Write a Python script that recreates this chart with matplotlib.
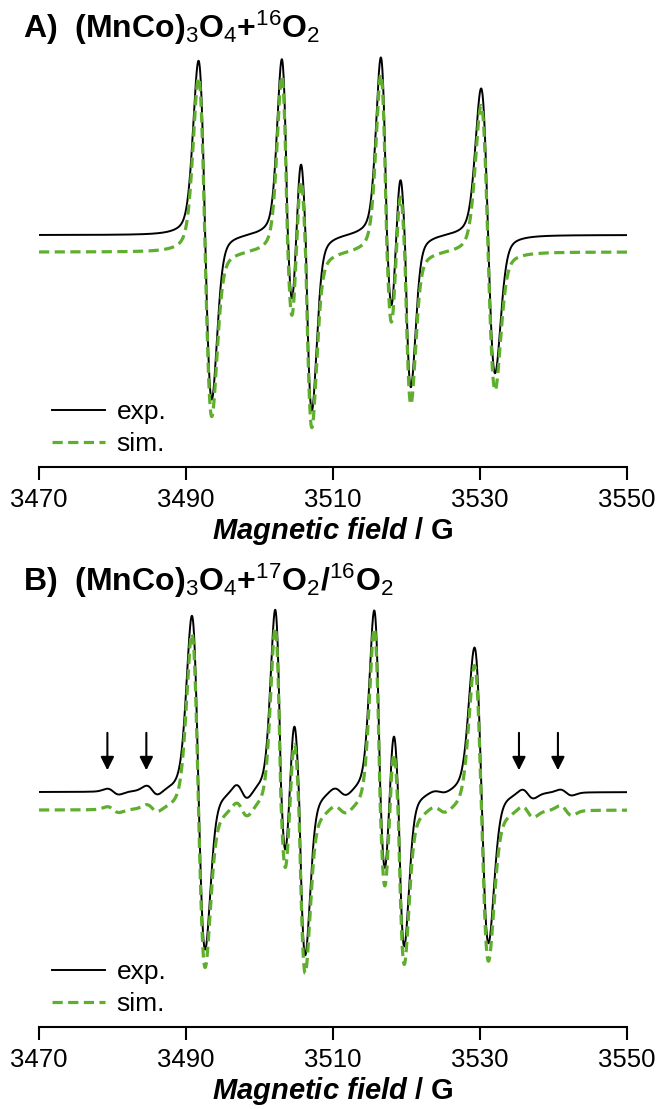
import numpy as np
import matplotlib.pyplot as plt

plt.rcParams.update({
    "font.family": ["Liberation Sans"],
    "mathtext.fontset": "custom",
    "mathtext.rm": "Liberation Sans",
    "mathtext.it": "Liberation Sans:italic",
    "mathtext.bf": "Liberation Sans:bold",
    "mathtext.bfit": "Liberation Sans:italic:bold",
})

# Magnetic field range / G
field_min, field_max = 3470, 3550
ticks = [3470, 3490, 3510, 3530, 3550]

# Panel A: main lines (centre / G, peak-to-peak width / G,
# height of the low-field lobe, depth of the high-field lobe)
a_center = [3492.6, 3503.8, 3506.3, 3517.3, 3519.8, 3531.1]
a_width = [1.80, 1.55, 1.65, 1.60, 1.60, 1.90]
a_up = [174, 171, 106, 174, 92, 147]
a_dn = [165, 104, 172, 104, 148, 138]
a_sim_offset = -17

# Panel B: main lines
b_center = [3491.7, 3502.9, 3505.4, 3516.4, 3518.9, 3530.2]
b_width = [1.80, 1.55, 1.65, 1.60, 1.60, 1.90]
b_up = [176, 178, 98, 178, 95, 145]
b_dn = [158, 95, 160, 111, 150, 151]
b_sim_offset = -18

# Panel B: weak 17O lines
o17_center = [3480.1, 3485.4, 3497.6, 3511.0, 3524.5, 3536.5, 3541.7]
o17_width = [1.6, 1.6, 1.6, 1.8, 1.8, 1.6, 1.6]
o17_amp_exp = [3, 5, 8, 5, 2, 5, 3]
o17_amp_sim = [3, 4, 8, 5, 4, 6, 5]

# arrows marking 17O lines
arrow_fields = [3479.3, 3484.6, 3535.3, 3540.6]

green = "#5fae2e"
eta = 0.25


def deriv_shape(field, center, width):
    # first-derivative pseudo-Voigt, +/-1 at the extremes
    sig = width / 2
    u = (field - center) / sig
    g = -u * np.exp(-u ** 2 / 2) / np.exp(-0.5)
    gam = width * np.sqrt(3) / 2
    v = (field - center) / gam
    l = -v / (1 + v ** 2) ** 2 / (9 / (16 * np.sqrt(3)))
    return (1 - eta) * g + eta * l


def spectrum(field, centers, widths, ups, dns):
    y = np.zeros_like(field)
    for c, w, up, dn in zip(centers, widths, ups, dns):
        d = deriv_shape(field, c, w)
        y += np.where(d > 0, up * d, dn * d)
    return y


field = np.linspace(field_min, field_max, 4001)

a_exp = spectrum(field, a_center, a_width, a_up, a_dn)
a_sim = a_exp + a_sim_offset
b_main = spectrum(field, b_center, b_width, b_up, b_dn)
b_exp = b_main + spectrum(field, o17_center, o17_width, o17_amp_exp, o17_amp_exp)
b_sim = b_main + spectrum(field, o17_center, o17_width, o17_amp_sim, o17_amp_sim) + b_sim_offset

fig = plt.figure(figsize=(6.56, 11.09), dpi=100)
axA = fig.add_axes([0.0595, 0.5789, 0.8963, 0.385])
axB = fig.add_axes([0.0595, 0.0739, 0.8963, 0.385])


def style_axis(ax, ylim):
    ax.set_xlim(field_min, field_max)
    ax.set_ylim(*ylim)
    for s in ["left", "right", "top"]:
        ax.spines[s].set_visible(False)
    ax.spines["bottom"].set_linewidth(1.5)
    ax.set_yticks([])
    ax.set_xticks(ticks)
    ax.tick_params(axis="x", direction="out", length=9, width=1.5, labelsize=18.5, pad=6)
    ax.set_xlabel(r"$\mathbfit{Magnetic\ field}$ / G", fontsize=21,
                  fontweight="bold", labelpad=2)
    ax.patch.set_visible(False)


for ax, exp, sim, ylim in [(axA, a_exp, a_sim, (-232, 195)), (axB, b_exp, b_sim, (-235, 192))]:
    ax.plot(field, exp, color="black", lw=1.4, label="exp.")
    ax.plot(field, sim, color=green, lw=2.3, linestyle=(0, (3.2, 1.7)), label="sim.")
    style_axis(ax, ylim)
    ax.legend(loc="lower left", bbox_to_anchor=(0.022, 0.025), frameon=False, fontsize=19,
              handlelength=2.0, handletextpad=0.45, labelspacing=0.3,
              borderpad=0, borderaxespad=0)

for f in arrow_fields:
    axB.annotate("", xy=(f, 19), xytext=(f, 62),
                 arrowprops=dict(arrowstyle="-|>", color="black", lw=1.5, mutation_scale=20))

fig.text(0.035, 0.9748, r"A)  (MnCo)$_3$O$_4$+$^{16}$O$_2$", fontsize=23,
         fontweight="bold", va="center")
fig.text(0.035, 0.476, r"B)  (MnCo)$_3$O$_4$+$^{17}$O$_2$/$^{16}$O$_2$", fontsize=23,
         fontweight="bold", va="center")

fig.savefig("out.png", dpi=100, facecolor="white")
